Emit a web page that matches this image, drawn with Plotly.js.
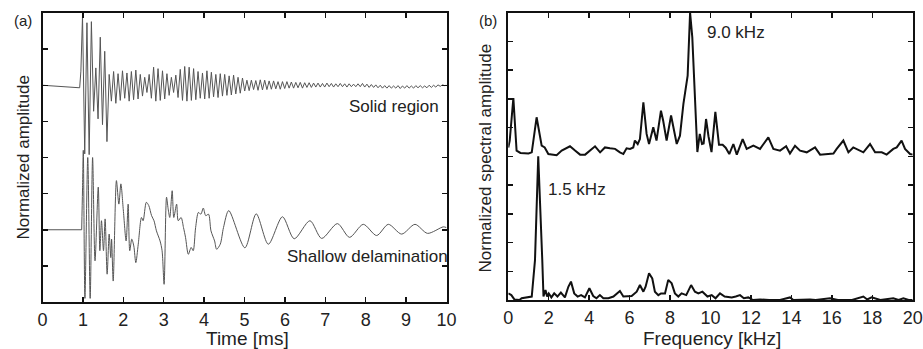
<!DOCTYPE html>
<html><head><meta charset="utf-8">
<script src="https://cdn.plot.ly/plotly-3.0.1.min.js"></script>
<style>html,body{margin:0;padding:0;background:#fff}#chart{width:923px;height:349px}</style>
</head><body><div id="chart"></div>
<script>
// ---------- Panel (a): time signals (normalized amplitude, relative to each baseline) ----------
// Solid region: leading flat part, then samples on a constant sample interval
const solidPreTime = [0, 0.92, 0.95];
const solidPreAmp  = [0, -0.07, 0.39];
const solidStart = 0.99;   // ms, first sample of the oscillating part
const solidStep  = 0.055;  // ms, sample interval (half period of the ~9 kHz ringing)
const solidAmp = [
  1.92, -1.9, 1.73, -1.92, 1.76, -0.72, 0.48, -0.93, 1.33, -1.09,
  0.94, -1.56, 0.3, -0.44, 0.38, -0.5, 0.32, -0.42, 0.4, -0.36,
  0.34, -0.44, 0.38, -0.4, 0.42, -0.38, 0.3, -0.3, 0.22, -0.2,
  0.3, -0.36, 0.5, -0.44, 0.46, -0.42, 0.4, -0.38, 0.32, -0.28,
  0.22, -0.2, 0.28, -0.34, 0.44, -0.42, 0.52, -0.44, 0.5, -0.42,
  0.46, -0.4, 0.38, -0.36, 0.34, -0.38, 0.4, -0.36, 0.36, -0.32,
  0.3, -0.34, 0.32, -0.3, 0.3, -0.28, 0.26, -0.27, 0.28, -0.24,
  0.22, -0.22, 0.2, -0.16, 0.14, -0.15, 0.14, -0.12, 0.13, -0.14,
  0.15, -0.13, 0.14, -0.12, 0.12, -0.11, 0.12, -0.1, 0.1, -0.11,
  0.1, -0.09, 0.1, -0.08, 0.09, -0.08, 0.08, -0.07, 0.08, -0.08,
  0.07, -0.06, 0.07, -0.06, 0.06, -0.05, 0.06, -0.05, 0.05, -0.05,
  0.06, -0.04, 0.05, -0.05, 0.04, -0.04, 0.05, -0.04, 0.04, -0.05,
  0.04, -0.04, 0.03, -0.04, 0.04, -0.04, 0.05, -0.05, 0.03, -0.06,
  0.02, -0.06, 0.01, -0.07, 0.0, -0.08, -0.01, -0.08, -0.01, -0.08,
  -0.02, -0.08, -0.01, -0.09, -0.02, -0.08, -0.01, -0.08, -0.02, -0.08,
  -0.01, -0.07, -0.01, -0.07, -0.02, -0.07, 0.0, -0.06, 0.0, -0.05,
  0.01, -0.03, 0.01, -0.01
];
const solidEndTime = 10, solidEndAmp = 0;

// Shallow delamination: extrema
const delamTime = [
  0, 0.97, 0.99, 1.01, 1.05, 1.12, 1.18, 1.24, 1.30, 1.38,
  1.42, 1.46, 1.51, 1.55, 1.60, 1.65, 1.69, 1.71, 1.75, 1.83,
  1.89, 1.94, 2.00, 2.07, 2.12, 2.16, 2.21, 2.26, 2.31, 2.37,
  2.45, 2.49, 2.57, 2.63, 2.70, 2.76, 2.82, 2.91, 2.96, 3.01,
  3.07, 3.11, 3.15, 3.21, 3.25, 3.32, 3.36, 3.43, 3.49, 3.54,
  3.61, 3.68, 3.73, 3.79, 3.86, 3.92, 3.98, 4.04, 4.11, 4.17,
  4.26, 4.31, 4.40, 4.48, 4.61, 5.01, 5.29, 5.59, 5.94, 6.23,
  6.62, 6.91, 7.30, 7.60, 7.94, 8.27, 8.56, 8.89, 9.22, 9.53,
  9.92, 10.0
];
const delamAmp = [
  0, 0, 1.1, 2.2, -1.9, 2.0, -1.9, 2.0, -0.86, 1.18,
  -0.58, 0.25, -0.58, 0.3, -1.23, -0.12, -0.77, -0.26, -1.42, 1.36,
  0.71, 1.27, 0.55, -0.31, 0.71, -0.58, -0.26, -0.45, -0.91, -0.4,
  0.34, 0.25, 0.76, 0.67, 0.39, 0.25, -0.03, -0.31, -0.58, -1.51,
  0.9, 0.58, 0.34, 1.08, 0.34, 0.71, 0.25, 0.34, 0.06, -0.21,
  -0.68, -0.49, -0.58, 0.06, 0.48, 0.43, 0.6, 0.39, 0.43, -0.03,
  -0.31, -0.54, -0.4, 0.06, 0.53, -0.5, 0.44, -0.4, 0.36, -0.25,
  0.25, -0.24, 0.17, -0.21, 0.15, -0.16, 0.15, -0.12, 0.15, -0.1,
  0.08, 0.06
];

// ---------- Panel (b): spectra (normalized spectral amplitude, relative to baselines) ----------
const solidFreq = [
  0, 0.07, 0.25, 0.41, 0.6, 0.8, 1.0, 1.16, 1.4, 1.65,
  1.8, 1.98, 2.23, 2.39, 2.64, 2.8, 3.05, 3.3, 3.55, 3.8,
  4.04, 4.29, 4.54, 4.78, 5.03, 5.28, 5.52, 5.69, 5.85, 6.02,
  6.18, 6.26, 6.4, 6.51, 6.68, 6.84, 6.96, 7.17, 7.33, 7.55,
  7.66, 7.83, 8.05, 8.33, 8.49, 8.66, 8.87, 8.99, 9.1, 9.35,
  9.47, 9.58, 9.66, 9.78, 9.9, 10.05, 10.24, 10.42, 10.6, 10.75,
  10.93, 11.13, 11.3, 11.59, 11.79, 12.12, 12.45, 12.86, 13.11, 13.44,
  13.74, 13.93, 14.18, 14.43, 14.76, 15.17, 15.42, 15.75, 16.08, 16.24,
  16.57, 16.82, 17.06, 17.56, 17.89, 18.14, 18.47, 18.71, 19.04, 19.21,
  19.45, 19.62, 19.87, 20.0
];
const solidSpec = [
  0.31, 0.55, 2.03, 0.2, 0.12, 0.12, 0.1, 0.14, 1.36, 0.37,
  0.31, 0.08, 0.06, 0.04, 0.2, 0.26, 0.35, 0.2, 0.06, 0.06,
  0.2, 0.35, 0.14, 0.31, 0.28, 0.26, 0.14, 0.08, 0.28, 0.26,
  0.31, 0.55, 0.43, 0.6, 1.88, 0.78, 0.43, 1.01, 0.55, 1.59,
  1.24, 0.55, 1.42, 0.43, 0.72, 1.83, 2.81, 5.0, 4.14, 0.15,
  0.78, 0.43, 0.45, 1.3, 0.7, 0.15, 1.55, 0.4, 0.4, 0.3,
  0.08, 0.43, 0.06, 0.6, 0.26, 0.37, 0.26, 0.66, 0.26, 0.2,
  0.35, 0.1, 0.37, 0.2, 0.14, 0.31, 0.06, 0.08, 0.1, 0.26,
  0.55, 0.14, 0.31, 0.14, 0.43, 0.14, 0.14, 0.06, 0.26, 0.31,
  0.55, 0.26, 0.08, 0.06
];
const delamFreq = [
  0, 0.15, 0.3, 0.41, 0.55, 0.66, 0.91, 1.16, 1.32, 1.48,
  1.68, 1.74, 1.84, 1.92, 2.0, 2.13, 2.27, 2.43, 2.6, 2.8,
  2.97, 3.1, 3.26, 3.43, 3.6, 3.79, 4.01, 4.2, 4.36, 4.53,
  4.7, 4.95, 5.2, 5.52, 5.69, 5.9, 6.1, 6.35, 6.51, 6.68,
  6.79, 6.96, 7.12, 7.25, 7.42, 7.55, 7.75, 7.91, 8.08, 8.24,
  8.41, 8.57, 8.8, 9.04, 9.23, 9.4, 9.6, 9.85, 10.06, 10.25,
  10.47, 10.7, 11.05, 11.25, 11.46, 11.65, 11.87, 12.1, 12.45, 12.9,
  13.44, 13.93, 14.1, 14.92, 15.2, 15.91, 16.3, 17.0, 17.56, 17.75,
  17.97, 18.4, 19.04, 19.3, 19.54, 19.8, 20.0
];
const delamSpec = [
  0.23, 0.17, 0.02, 0.02, 0.0, 0.06, 0.09, 0.12, 1.39, 5.0,
  1.39, 0.12, 0.35, 0.12, 0.23, 0.09, 0.23, 0.12, 0.26, 0.09,
  0.46, 0.64, 0.23, 0.12, 0.17, 0.09, 0.41, 0.14, 0.06, 0.17,
  0.06, 0.06, 0.12, 0.31, 0.12, 0.12, 0.14, 0.29, 0.52, 0.29,
  0.46, 0.93, 0.75, 0.29, 0.17, 0.23, 0.23, 0.7, 0.58, 0.23,
  0.12, 0.23, 0.17, 0.52, 0.29, 0.23, 0.29, 0.12, 0.17, 0.06,
  0.23, 0.12, 0.09, 0.12, 0.17, 0.06, 0.09, 0.0, 0.02, 0.0,
  0.0, 0.09, 0.0, 0.02, 0.0, 0.06, 0.0, 0.0, 0.12, 0.02,
  0.09, 0.0, 0.06, 0.0, 0.06, 0.0, 0.0
];

// Tick values
const timeTicks = [0,1,2,3,4,5,6,7,8,9,10];
const freqTicks = [0,2,4,6,8,10,12,14,16,18,20];

// Labels
const labels = {
  a: '(a)', b: '(b)',
  solid: 'Solid region', delam: 'Shallow delamination',
  f9: '9.0 kHz', f15: '1.5 kHz',
  xa: 'Time [ms]', ya: 'Normalized amplitude',
  xb: 'Frequency [kHz]', yb: 'Normalized spectral amplitude'
};

// ---------- build ----------
const W = 923, H = 349;
const px = v => v / W, py = v => 1 - v / H;
const solidBase = 6, delamBase = 2, specUpperBase = 5, specLowerBase = 0;

const solidT = solidPreTime.slice(), solidY = solidPreAmp.map(a => a + solidBase);
solidAmp.forEach((a, i) => { solidT.push(solidStart + i * solidStep); solidY.push(a + solidBase); });
solidT.push(solidEndTime); solidY.push(solidEndAmp + solidBase);

const thinLine = {color: '#555', width: 1};
const thickLine = {color: '#111', width: 2};

const traces = [
  {x: solidT, y: solidY, xaxis: 'x', yaxis: 'y', mode: 'lines', line: thinLine, hoverinfo: 'skip'},
  {x: delamTime.slice(0, 2), y: delamAmp.slice(0, 2).map(a => a + delamBase), xaxis: 'x', yaxis: 'y', mode: 'lines', line: thinLine, hoverinfo: 'skip'},
  {x: delamTime.slice(1), y: delamAmp.slice(1).map(a => a + delamBase), xaxis: 'x', yaxis: 'y', mode: 'lines',
   line: Object.assign({shape: 'spline', smoothing: 0.8}, thinLine), hoverinfo: 'skip'},
  {x: solidFreq, y: solidSpec.map(a => a + specUpperBase), xaxis: 'x2', yaxis: 'y2', mode: 'lines', line: thickLine, hoverinfo: 'skip'},
  {x: delamFreq, y: delamSpec.map(a => a + specLowerBase), xaxis: 'x2', yaxis: 'y2', mode: 'lines', line: thickLine, hoverinfo: 'skip'}
];

const font = 'Liberation Sans, Arial, Helvetica, sans-serif';
const axisCommon = {
  ticks: 'inside', ticklen: 5, tickwidth: 1.5, tickcolor: '#111',
  showline: true, linecolor: '#111', linewidth: 2, mirror: 'ticks',
  showgrid: false, zeroline: false, fixedrange: true,
  tickfont: {family: font, size: 18, color: '#222'}
};

const ann = (text, x, y, opts) => Object.assign({
  text, xref: 'paper', yref: 'paper', x: px(x), y: py(y),
  xanchor: 'left', yanchor: 'middle', showarrow: false,
  font: {family: font, size: 17, color: '#222'}
}, opts || {});

const layout = {
  width: W, height: H, margin: {l: 0, r: 0, t: 0, b: 0},
  paper_bgcolor: '#fff', plot_bgcolor: '#fff', showlegend: false,
  font: {family: font, color: '#222'},
  xaxis: Object.assign({}, axisCommon, {domain: [px(42.5), px(446.5)], range: [0, 10], tickvals: timeTicks, anchor: 'y'}),
  yaxis: Object.assign({}, axisCommon, {domain: [py(302), py(13)], range: [0, 8], dtick: 1, showticklabels: false, anchor: 'x'}),
  xaxis2: Object.assign({}, axisCommon, {domain: [px(508.3), px(912.7)], range: [0, 20], tickvals: freqTicks, anchor: 'y2'}),
  yaxis2: Object.assign({}, axisCommon, {domain: [py(300), py(12.7)], range: [0, 10], dtick: 1, showticklabels: false, anchor: 'x2'}),
  annotations: [
    ann(labels.a, 12, 20, {font: {family: font, size: 15, color: '#222'}}),
    ann(labels.b, 477, 20, {font: {family: font, size: 15, color: '#222'}}),
    ann(labels.solid, 347, 106),
    ann(labels.delam, 285, 256),
    ann(labels.f9, 705, 32),
    ann(labels.f15, 546, 189),
    ann(labels.xa, 248, 338, {xanchor: 'center', font: {family: font, size: 19, color: '#222'}}),
    ann(labels.xb, 711.5, 338, {xanchor: 'center', font: {family: font, size: 19, color: '#222'}}),
    ann(labels.ya, 23, 157.5, {xanchor: 'center', textangle: -90}),
    ann(labels.yb, 485, 158.5, {xanchor: 'center', textangle: -90})
  ]
};

Plotly.newPlot('chart', traces, layout, {staticPlot: true, displayModeBar: false});
</script>
</body></html>
